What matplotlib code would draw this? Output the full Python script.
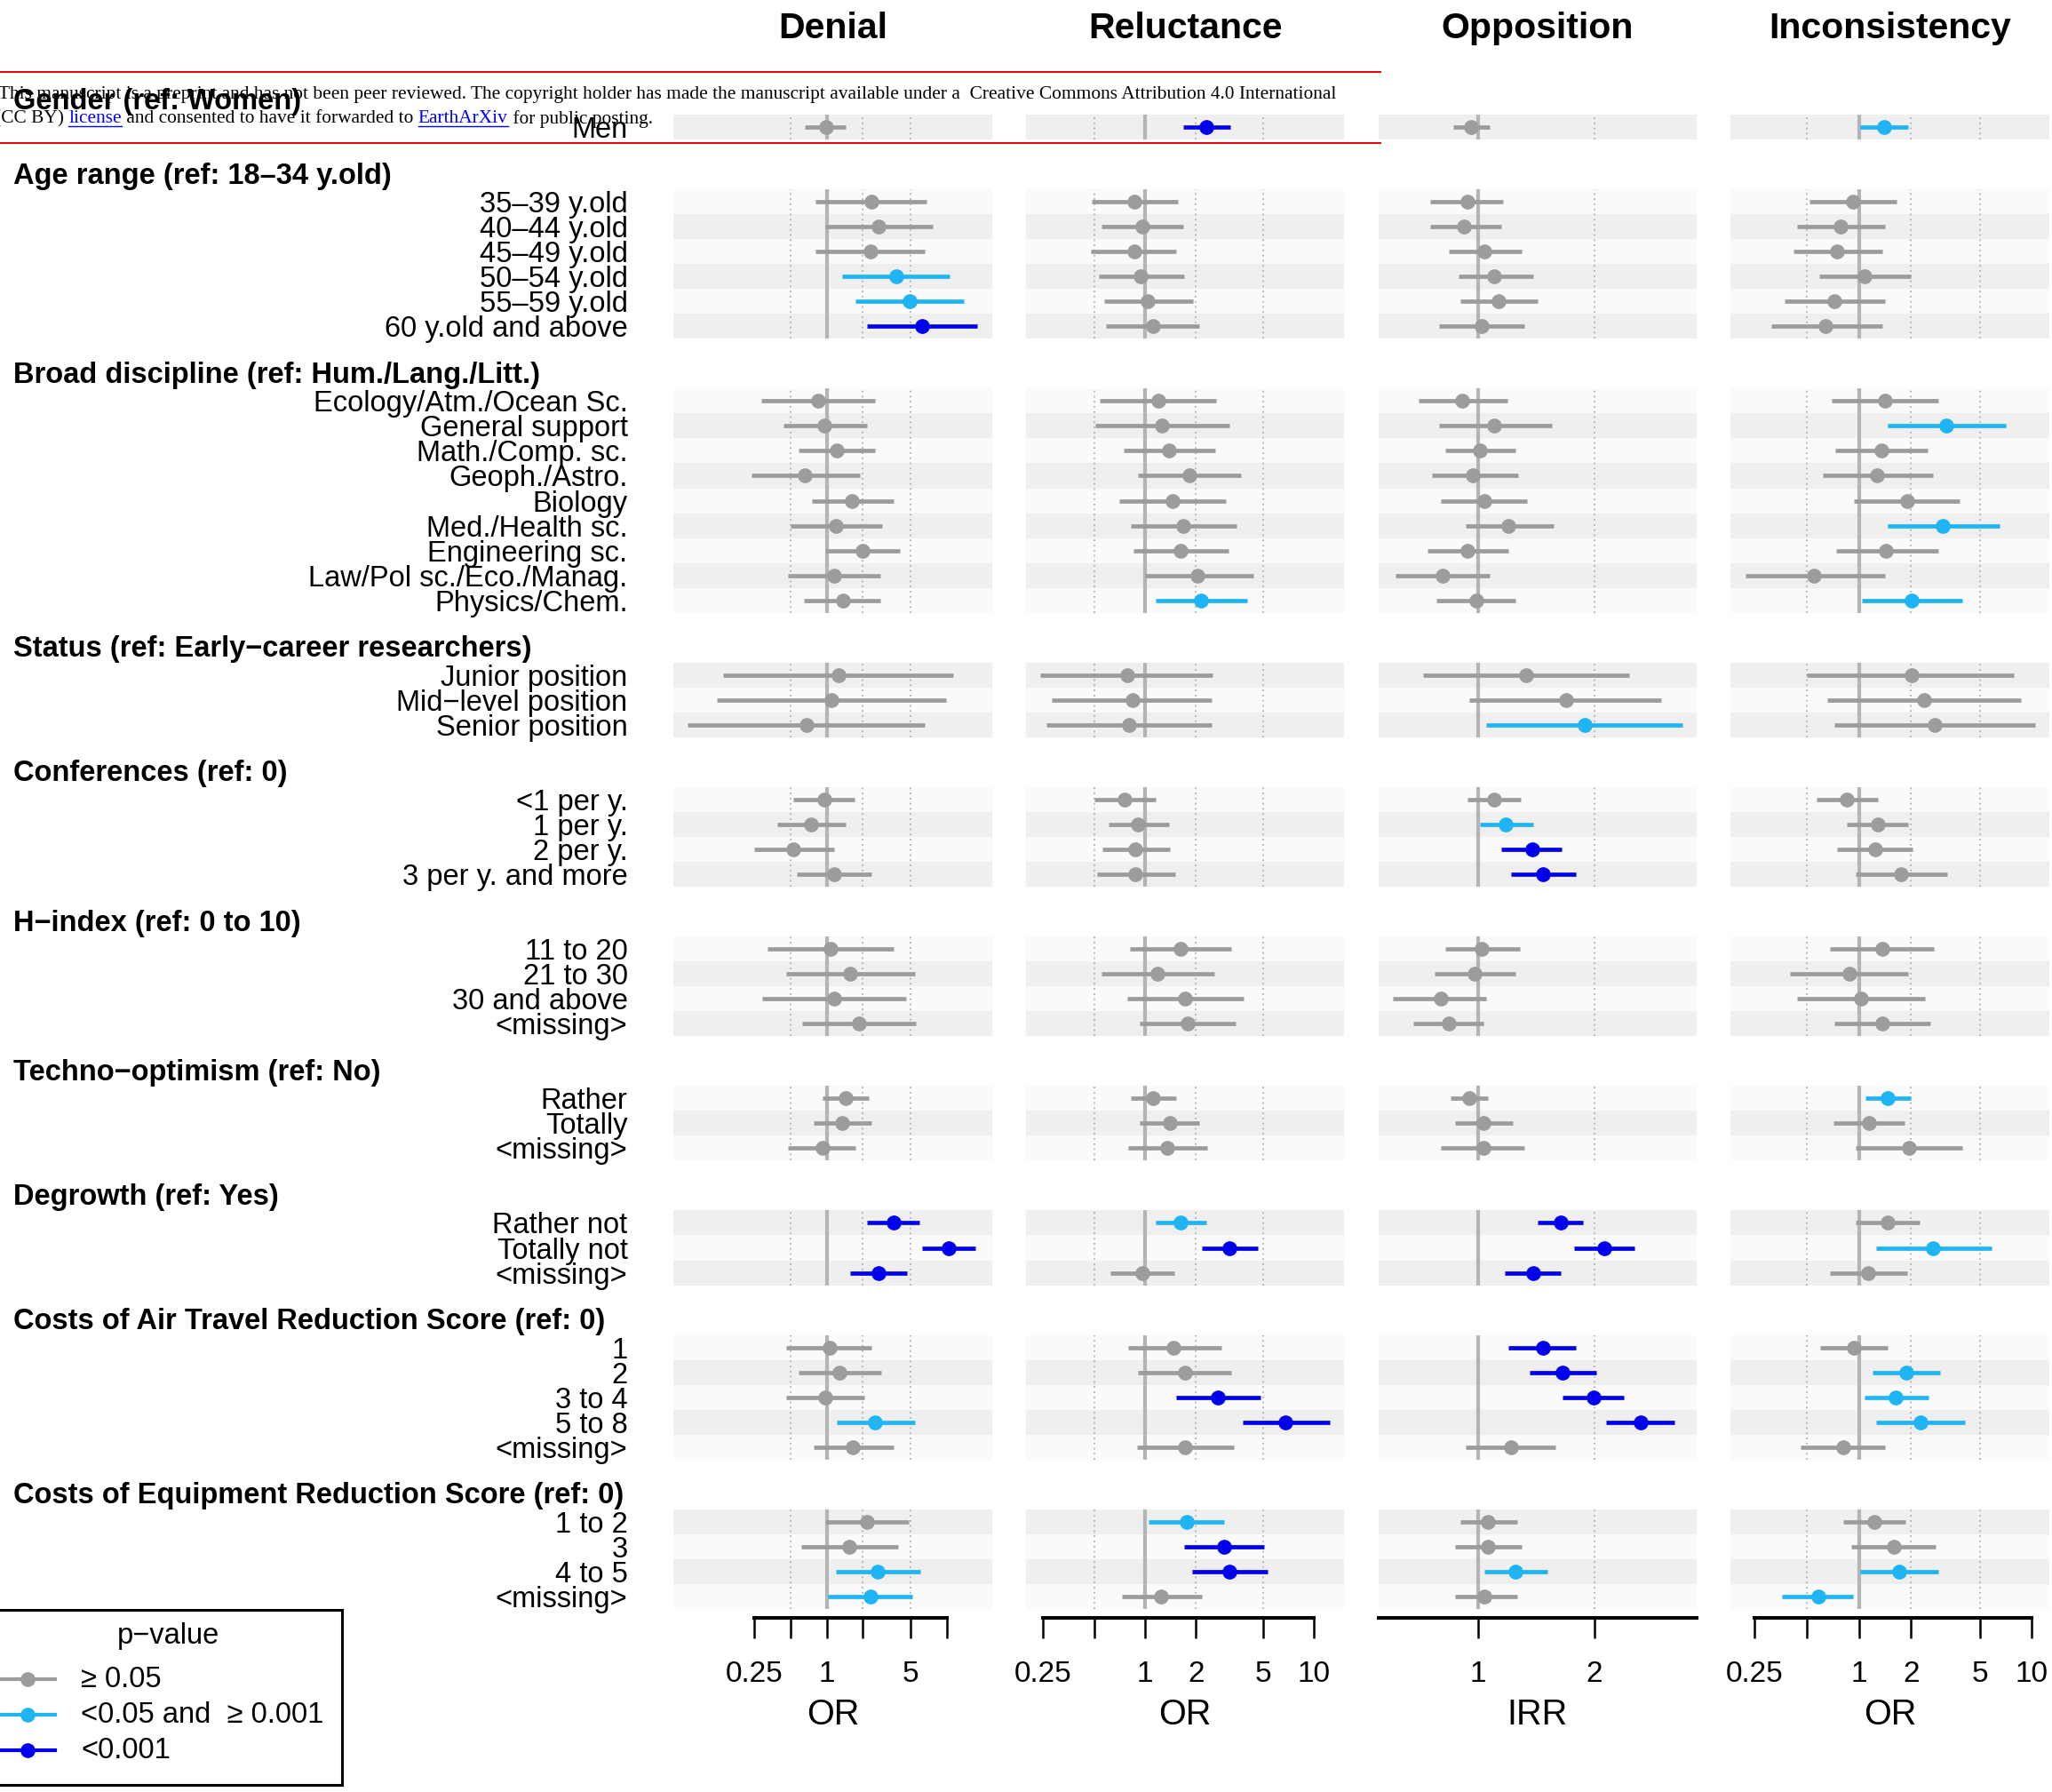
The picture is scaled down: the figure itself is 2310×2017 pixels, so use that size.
import numpy as np
import matplotlib
matplotlib.use("Agg")
import matplotlib.pyplot as plt
from matplotlib.patches import Rectangle
from matplotlib.lines import Line2D
from matplotlib.ticker import NullLocator, NullFormatter

plt.rcParams['font.family'] = ['Liberation Sans', 'DejaVu Sans']

# ---- data ----
groups = ["Gender (ref: Women)", "Age range (ref: 18\u201334 y.old)",
          "Broad discipline (ref: Hum./Lang./Litt.)",
          "Status (ref: Early\u2212career researchers)", "Conferences (ref: 0)",
          "H\u2212index (ref: 0 to 10)", "Techno\u2212optimism (ref: No)",
          "Degrowth (ref: Yes)", "Costs of Air Travel Reduction Score (ref: 0)",
          "Costs of Equipment Reduction Score (ref: 0)"]
group_sizes = [1, 6, 9, 3, 4, 4, 3, 3, 5, 4]
row_labels = ["Men",
              "35\u201339 y.old", "40\u201344 y.old", "45\u201349 y.old", "50\u201354 y.old",
              "55\u201359 y.old", "60 y.old and above",
              "Ecology/Atm./Ocean Sc.", "General support", "Math./Comp. sc.", "Geoph./Astro.",
              "Biology", "Med./Health sc.", "Engineering sc.", "Law/Pol sc./Eco./Manag.",
              "Physics/Chem.",
              "Junior position", "Mid\u2212level position", "Senior position",
              "<1 per y.", "1 per y.", "2 per y.", "3 per y. and more",
              "11 to 20", "21 to 30", "30 and above", "<missing>",
              "Rather", "Totally", "<missing>",
              "Rather not", "Totally not", "<missing>",
              "1", "2", "3 to 4", "5 to 8", "<missing>",
              "1 to 2", "3", "4 to 5", "<missing>"]

models = ["Denial", "Reluctance", "Opposition", "Inconsistency"]
axis_titles = ["OR", "OR", "IRR", "OR"]

denial_est = [0.99, 2.34, 2.71, 2.31, 3.78, 4.93, 6.27, 0.85, 0.96, 1.21, 0.66, 1.63, 1.20, 1.99, 1.15, 1.36,
              1.25, 1.09, 0.68, 0.95, 0.74, 0.53, 1.15, 1.07, 1.57, 1.15, 1.85, 1.43, 1.34, 0.93,
              3.6, 10.3, 2.68, 1.06, 1.28, 0.97, 2.54, 1.66, 2.15, 1.54, 2.65, 2.3]
denial_lo = [0.66, 0.81, 0.97, 0.81, 1.34, 1.75, 2.17, 0.287, 0.435, 0.58, 0.237, 0.75, 0.5, 0.97, 0.48, 0.65,
             0.138, 0.122, 0.070, 0.53, 0.39, 0.25, 0.56, 0.32, 0.46, 0.29, 0.63, 0.93, 0.78, 0.48,
             2.17, 6.27, 1.56, 0.46, 0.58, 0.46, 1.22, 0.78, 0.97, 0.62, 1.19, 1.03]
denial_hi = [1.43, 6.77, 7.6, 6.59, 10.5, 13.8, 18.0, 2.54, 2.17, 2.54, 1.88, 3.64, 2.87, 4.09, 2.8, 2.8,
             11.3, 9.78, 6.5, 1.70, 1.43, 1.15, 2.37, 3.58, 5.43, 4.6, 5.5, 2.23, 2.36, 1.75,
             5.94, 17.2, 4.67, 2.36, 2.84, 2.07, 5.43, 3.58, 4.86, 3.95, 6.06, 5.13]
denial_sig = [0, 0, 0, 0, 1, 1, 2, 0, 0, 0, 0, 0, 0, 0, 0, 0, 0, 0, 0, 0, 0, 0, 0, 0, 0, 0, 0, 0, 0, 0,
              2, 2, 2, 0, 0, 0, 1, 0, 0, 0, 1, 1]

reluct_est = [2.31, 0.86, 0.96, 0.86, 0.94, 1.04, 1.11, 1.2, 1.26, 1.39, 1.83, 1.45, 1.68, 1.62, 2.05, 2.14,
              0.78, 0.84, 0.8, 0.76, 0.91, 0.88, 0.88, 1.62, 1.19, 1.72, 1.79, 1.12, 1.41, 1.35,
              1.62, 3.17, 0.96, 1.48, 1.72, 2.7, 6.79, 1.73, 1.76, 2.94, 3.17, 1.25]
reluct_lo = [1.69, 0.485, 0.55, 0.48, 0.53, 0.57, 0.59, 0.54, 0.51, 0.75, 0.91, 0.70, 0.82, 0.85, 1.0, 1.16,
             0.24, 0.28, 0.26, 0.5, 0.61, 0.56, 0.52, 0.81, 0.55, 0.78, 0.93, 0.82, 0.93, 0.79,
             1.15, 2.16, 0.62, 0.79, 0.91, 1.53, 3.79, 0.9, 1.05, 1.71, 1.9, 0.73]
reluct_hi = [3.2, 1.56, 1.68, 1.53, 1.70, 1.92, 2.1, 2.63, 3.14, 2.59, 3.67, 3.0, 3.46, 3.11, 4.38, 4.0,
             2.51, 2.49, 2.49, 1.15, 1.38, 1.41, 1.51, 3.23, 2.58, 3.84, 3.43, 1.53, 2.1, 2.34,
             2.31, 4.67, 1.49, 2.82, 3.23, 4.79, 12.4, 3.36, 2.92, 5.06, 5.32, 2.18]
reluct_sig = [2, 0, 0, 0, 0, 0, 0, 0, 0, 0, 0, 0, 0, 0, 0, 1, 0, 0, 0, 0, 0, 0, 0, 0, 0, 0, 0, 0, 0, 0,
              1, 2, 0, 0, 0, 2, 2, 0, 1, 2, 2, 0]

oppos_est = [0.96, 0.94, 0.92, 1.04, 1.10, 1.13, 1.02, 0.91, 1.10, 1.01, 0.97, 1.04, 1.2, 0.94, 0.81, 0.99,
             1.33, 1.69, 1.89, 1.10, 1.18, 1.38, 1.47, 1.02, 0.98, 0.80, 0.84, 0.95, 1.03, 1.03,
             1.64, 2.12, 1.39, 1.47, 1.66, 1.99, 2.64, 1.22, 1.06, 1.06, 1.25, 1.04]
oppos_lo = [0.86, 0.75, 0.75, 0.84, 0.89, 0.90, 0.79, 0.70, 0.79, 0.82, 0.76, 0.80, 0.93, 0.74, 0.61, 0.78,
            0.72, 0.95, 1.05, 0.94, 1.01, 1.15, 1.22, 0.82, 0.77, 0.60, 0.68, 0.85, 0.87, 0.80,
            1.43, 1.77, 1.17, 1.2, 1.36, 1.66, 2.15, 0.93, 0.90, 0.87, 1.04, 0.87]
oppos_hi = [1.07, 1.16, 1.15, 1.30, 1.39, 1.43, 1.32, 1.19, 1.55, 1.25, 1.27, 1.34, 1.57, 1.2, 1.07, 1.25,
            2.46, 2.99, 3.39, 1.29, 1.39, 1.65, 1.79, 1.28, 1.25, 1.05, 1.03, 1.06, 1.23, 1.32,
            1.87, 2.55, 1.64, 1.79, 2.03, 2.39, 3.23, 1.59, 1.26, 1.30, 1.51, 1.26]
oppos_sig = [0, 0, 0, 0, 0, 0, 0, 0, 0, 0, 0, 0, 0, 0, 0, 0, 0, 0, 1, 0, 1, 2, 2, 0, 0, 0, 0, 0, 0, 0,
             2, 2, 2, 2, 2, 2, 2, 0, 0, 0, 1, 0]

incons_est = [1.40, 0.92, 0.78, 0.75, 1.08, 0.72, 0.64, 1.41, 3.2, 1.35, 1.27, 1.9, 3.06, 1.44, 0.55, 2.01,
              2.01, 2.38, 2.74, 0.85, 1.28, 1.24, 1.75, 1.36, 0.88, 1.03, 1.36, 1.47, 1.14, 1.95,
              1.46, 2.69, 1.13, 0.94, 1.88, 1.64, 2.26, 0.81, 1.23, 1.59, 1.71, 0.58]
incons_lo = [1.02, 0.52, 0.44, 0.42, 0.59, 0.37, 0.31, 0.70, 1.46, 0.73, 0.62, 0.94, 1.46, 0.74, 0.22, 1.04,
             0.50, 0.66, 0.72, 0.57, 0.85, 0.75, 0.96, 0.68, 0.40, 0.44, 0.72, 1.09, 0.71, 0.96,
             0.96, 1.25, 0.68, 0.60, 1.2, 1.08, 1.25, 0.46, 0.81, 0.90, 1.02, 0.36]
incons_hi = [1.92, 1.65, 1.41, 1.37, 2.0, 1.41, 1.36, 2.88, 7.1, 2.49, 2.69, 3.83, 6.47, 2.87, 1.41, 3.96,
             7.84, 8.6, 10.4, 1.28, 1.92, 2.03, 3.23, 2.71, 1.92, 2.42, 2.59, 2.0, 1.83, 3.96,
             2.24, 5.86, 1.9, 1.47, 2.93, 2.54, 4.11, 1.41, 1.85, 2.77, 2.87, 0.93]
incons_sig = [1, 0, 0, 0, 0, 0, 0, 0, 1, 0, 0, 0, 1, 0, 0, 1, 0, 0, 0, 0, 0, 0, 0, 0, 0, 0, 0, 1, 0, 0,
              0, 1, 0, 0, 1, 1, 1, 0, 0, 0, 1, 1]

all_est = [denial_est, reluct_est, oppos_est, incons_est]
all_lo = [denial_lo, reluct_lo, oppos_lo, incons_lo]
all_hi = [denial_hi, reluct_hi, oppos_hi, incons_hi]
all_sig = [denial_sig, reluct_sig, oppos_sig, incons_sig]

tick_vals = [0.25, 0.5, 1, 2, 5, 10]
tick_text = [["0.25", "", "1", "", "5", ""],
             ["0.25", "", "1", "2", "5", "10"],
             ["0.25", "", "1", "2", "5", "10"],
             ["0.25", "", "1", "2", "5", "10"]]
grid_vals = [0.5, 2, 5]

sig_colors = ["#9c9c9c", "#1fb4f4", "#0000ee"]
legend_labels = ["\u2265 0.05", "<0.05 and  \u2265 0.001", "<0.001"]

# ---- figure ----
W, H = 2310, 2017
fig = plt.figure(figsize=(W / 100, H / 100), dpi=100)
gs = fig.add_gridspec(len(groups), 4, height_ratios=group_sizes,
                      left=758 / W, right=2307 / W, top=1 - 129 / H, bottom=1 - 1811 / H,
                      hspace=0.476, wspace=0.106)

starts = np.concatenate([[0], np.cumsum(group_sizes)[:-1]])
dark, light = "#efefef", "#fafafa"

for m in range(4):
    est = np.array(all_est[m])
    lo = np.array(all_lo[m])
    hi = np.array(all_hi[m])
    sig = all_sig[m]
    # ggplot-like 5% expansion on the log scale
    a, b = np.log(lo.min()), np.log(hi.max())
    pad = 0.05 * (b - a)
    xl = (np.exp(a - pad), np.exp(b + pad))

    for g, n in enumerate(group_sizes):
        s = starts[g]
        ax = fig.add_subplot(gs[g, m])
        for i in range(n):
            ax.axhspan(i - 0.5, i + 0.5, color=dark if (s + i) % 2 == 0 else light, lw=0, zorder=0)
        ax.axvline(1, color="#b4b4b4", lw=3, zorder=1)
        for gv in grid_vals:
            if xl[0] < gv < xl[1]:
                ax.axvline(gv, color="#b0b0b0", lw=1.3, ls=(0, (1, 2.2)), zorder=1)
        for i in range(n):
            c = sig_colors[sig[s + i]]
            ax.plot([lo[s + i], hi[s + i]], [i, i], color=c, lw=3.4, solid_capstyle="butt", zorder=2)
            ax.plot(est[s + i], i, "o", ms=11, color=c, mec=c, zorder=3)
        ax.set_xscale("log")
        ax.set_xlim(xl)
        ax.set_ylim(n - 0.5, -0.5)
        ax.xaxis.set_minor_locator(NullLocator())
        ax.xaxis.set_minor_formatter(NullFormatter())
        for sp in ax.spines.values():
            sp.set_visible(False)

        if m == 0:
            ax.set_yticks(range(n))
            ax.set_yticklabels(row_labels[s:s + n])
            ax.tick_params(axis="y", length=0, pad=37, labelsize=23.5)
            bb = ax.get_position()
            fig.text(15 / W, bb.y1 + 15 / H, groups[g], fontsize=23.5, fontweight="bold",
                     ha="left", va="center")
        else:
            ax.set_yticks([])

        if g == 0:
            bb = ax.get_position()
            fig.text((bb.x0 + bb.x1) / 2, 1 - 32 / H, models[m], fontsize=29.5,
                     fontweight="bold", ha="center", va="center")

        if g == len(groups) - 1:
            tv = [t for t in tick_vals if xl[0] <= t <= xl[1]]
            tl = [tick_text[m][tick_vals.index(t)] for t in tv]
            ax.set_xticks(tv)
            ax.set_xticklabels(tl)
            ax.spines["bottom"].set_visible(True)
            ax.spines["bottom"].set_linewidth(2.9)
            ax.spines["bottom"].set_position(("outward", 7))
            # bracket spans first to last break, capped at the panel limits
            below = [t for t in tick_vals if t <= xl[0]]
            above = [t for t in tick_vals if t >= xl[1]]
            first = xl[0] if below else min(t for t in tick_vals if t >= xl[0])
            last = xl[1] if above else max(t for t in tick_vals if t <= xl[1])
            ax.spines["bottom"].set_bounds(first, last)
            ax.tick_params(axis="x", direction="out", length=16.5, width=1.8, pad=18,
                           labelsize=24)
            ax.set_xlabel(axis_titles[m], fontsize=28.5, labelpad=8)
        else:
            ax.set_xticks([])

# ---- legend (partly cut at the left edge) ----
fig.add_artist(Rectangle((-20 / W, 1 - 2009 / H), 405 / W, 197 / H, transform=fig.transFigure,
                         facecolor="white", edgecolor="black", lw=2.2, zorder=5))
fig.text(189 / W, 1 - 1841 / H, "p\u2212value", fontsize=23.5, ha="center", va="center", zorder=6)
for k, ylab in enumerate([1890, 1930, 1970]):
    yy = 1 - ylab / H
    fig.add_artist(Line2D([-5 / W, 62 / W], [yy, yy], color=sig_colors[k], lw=3,
                          transform=fig.transFigure, zorder=6))
    fig.add_artist(Line2D([31 / W], [yy], marker="o", ms=11, color=sig_colors[k],
                          transform=fig.transFigure, zorder=7))
    fig.text(91 / W, yy, legend_labels[k], fontsize=23.5, ha="left", va="center", zorder=6)

# ---- preprint banner on top ----
for yr in [81, 161]:
    fig.add_artist(Line2D([0, 1554 / W], [1 - yr / H, 1 - yr / H], color="#e00000", lw=1.4,
                          transform=fig.transFigure, zorder=8))
serif = ["Liberation Serif", "DejaVu Serif"]
fig.text(-2 / W, 1 - 107 / H,
         "This manuscript is a preprint and has not been peer reviewed. The copyright holder has made "
         "the manuscript available under a  Creative Commons Attribution 4.0 International",
         family=serif, fontsize=15.4, ha="left", va="center", zorder=9)

renderer = fig.canvas.get_renderer()
pieces = [("(CC BY) ", "black", False), ("license", "#0000ff", True),
          (" and consented to have it forwarded to ", "black", False),
          ("EarthArXiv", "#0000ff", True), (" for public posting.", "black", False)]
xpix = -6
y2 = 1 - 134 / H
for txt, col, under in pieces:
    t = fig.text(xpix / W, y2, txt, family=serif, fontsize=15.4, color=col,
                 ha="left", va="center", zorder=9)
    ext = t.get_window_extent(renderer=renderer)
    if under:
        uy = (ext.y0 + 1) / H
        fig.add_artist(Line2D([ext.x0 / W, ext.x1 / W], [uy, uy], color=col, lw=1,
                              transform=fig.transFigure, zorder=9))
    xpix = ext.x1

fig.savefig("out.png", dpi=100)
